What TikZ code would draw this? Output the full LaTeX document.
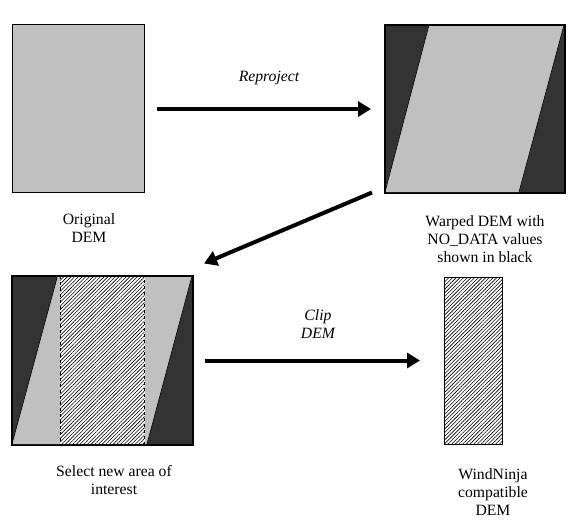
\documentclass[tikz,border=0pt]{standalone}
\usepackage{fontspec}
\setmainfont{Liberation Serif}
\usetikzlibrary{arrows.meta,patterns.meta}
\definecolor{demgray}{HTML}{C0C0C0}
\definecolor{nodata}{HTML}{333333}
\tikzset{
  dembox/.style={draw=black,line width=1.2pt,inner sep=0pt,anchor=north west},
  flow/.style={line width=4pt,-{Triangle[length=13pt,width=15pt]}},
  captext/.style={align=center,font=\fontsize{15.7}{18}\selectfont,inner sep=0pt},
  italtext/.style={align=center,font=\fontsize{15.7}{18}\selectfont\itshape,inner sep=0pt},
  hatch/.style={pattern={Lines[angle=45,distance=2.6pt,line width=0.6pt]},pattern color=black}
}
\begin{document}
\begin{tikzpicture}[x=1pt,y=-1pt]
\useasboundingbox (0,0) rectangle (576,528);
% box 1 original
\node[dembox,fill=demgray,minimum width=132pt,minimum height=168pt] (b1) at (12,24) {};
% box 2 warped
\node[dembox,fill=nodata,minimum width=179pt,minimum height=167pt] (b2) at (385,25) {};
\fill[demgray] (385,192) -- (429,25) -- (564,25) -- (519,192) -- cycle;
\draw[line width=0.6pt] (385,192) -- (429,25) (564,25) -- (519,192);
\draw[line width=1.2pt] (b2.north west) rectangle (b2.south east);
% box 3 select
\node[dembox,fill=nodata,minimum width=180pt,minimum height=168pt] (b3) at (12,276) {};
\fill[demgray] (12,444) -- (57.5,276) -- (192,276) -- (147,444) -- cycle;
\draw[line width=0.6pt] (12,444) -- (57.5,276) (192,276) -- (147,444);
\fill[white] (60,276) rectangle (144.5,444);
\fill[hatch] (60,276) rectangle (144.5,444);
\draw[dashed,line width=0.8pt] (60,276) rectangle (144.5,444);
\draw[line width=1.2pt] (b3.north west) rectangle (b3.south east);
% box 4 windninja
\node[dembox,hatch,minimum width=58pt,minimum height=167pt] (b4) at (444,277) {};
% arrows
\coordinate (a1s) at (157,109);
\coordinate (a1e) at (371,109);
\coordinate (a2s) at (372,192.5);
\coordinate (a2e) at (204,263.5);
\coordinate (a3s) at (205,360.5);
\coordinate (a3e) at (420,360.5);
\draw[flow] (a1s) -- (a1e);
\draw[flow] (a2s) -- (a2e);
\draw[flow] (a3s) -- (a3e);
% labels
\node[italtext] (lrep) at (269,78) {Reproject};
\node[italtext] (lclip) at (318,324) {Clip\\DEM};
\node[captext] (l1) at (89,228) {Original\\DEM};
\node[captext] (l2) at (485,239) {Warped DEM with\\NO\_DATA values\\shown in black};
\node[captext] (l3) at (114,480) {Select new area of\\interest};
\node[captext] (l4) at (493,492) {WindNinja\\compatible\\DEM};
\end{tikzpicture}
\end{document}
